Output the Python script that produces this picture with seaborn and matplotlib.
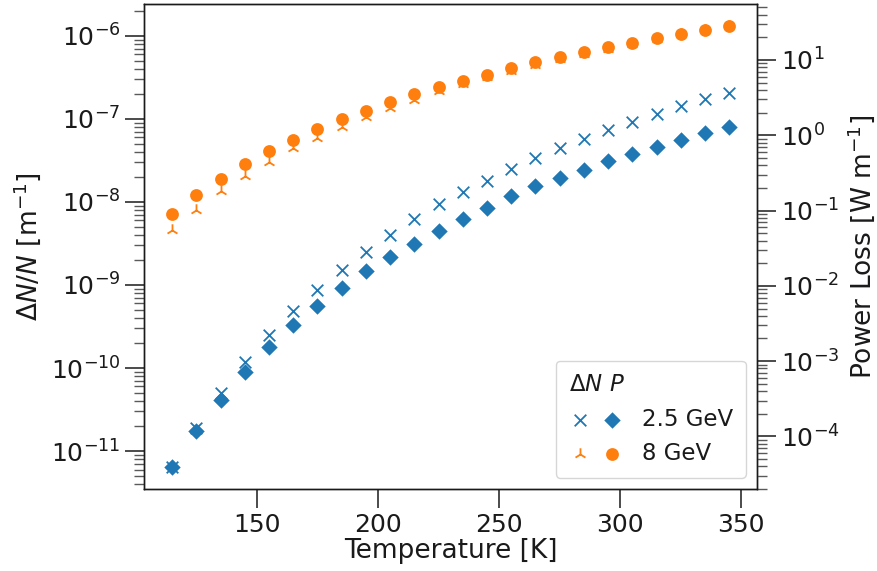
import numpy as np
import matplotlib
matplotlib.use('Agg')
from matplotlib import pyplot as plt
from matplotlib.legend_handler import HandlerTuple
import seaborn as sns

sns.set_theme(style='ticks')
plt.rcParams['font.family'] = ['DejaVu Sans']
plt.rcParams['mathtext.fontset'] = 'dejavusans'
plt.rcParams.update({'text.color': 'k', 'axes.labelcolor': 'k',
                     'xtick.color': 'k', 'ytick.color': 'k', 'axes.edgecolor': 'k'})

# temperature grid [K]
temperature = [115, 125, 135, 145, 155, 165, 175, 185, 195, 205, 215, 225,
               235, 245, 255, 265, 275, 285, 295, 305, 315, 325, 335, 345]

# relative loss dN/N [1/m]
dn_25 = [6.4e-12, 1.89e-11, 5.0e-11, 1.19e-10, 2.5e-10, 4.9e-10, 8.8e-10, 1.53e-9,
         2.5e-9, 4.0e-9, 6.2e-9, 9.4e-9, 1.3e-8, 1.8e-8, 2.5e-8, 3.4e-8,
         4.5e-8, 5.7e-8, 7.4e-8, 9.2e-8, 1.15e-7, 1.43e-7, 1.75e-7, 2.05e-7]
dn_8 = [4.58e-9, 7.94e-9, 1.36e-8, 2.06e-8, 3.05e-8, 4.43e-8, 5.89e-8, 7.94e-8,
        1.05e-7, 1.35e-7, 1.71e-7, 2.14e-7, 2.65e-7, 3.19e-7, 3.80e-7, 4.50e-7,
        5.21e-7, 6.0e-7, 7.0e-7, 7.96e-7, 9.15e-7, 1.04e-6, 1.17e-6, 1.31e-6]

# power loss [W/m]
p_25 = [3.9e-5, 1.17e-4, 3.07e-4, 7.28e-4, 1.53e-3, 3.0e-3, 5.45e-3, 9.5e-3,
        0.0158, 0.0244, 0.0363, 0.053, 0.0767, 0.109, 0.155, 0.21,
        0.271, 0.35, 0.45, 0.57, 0.70, 0.87, 1.07, 1.28]
p_8 = [0.0912, 0.160, 0.260, 0.410, 0.615, 0.871, 1.205, 1.62,
       2.13, 2.74, 3.55, 4.39, 5.32, 6.38, 7.74, 9.29,
       10.96, 12.8, 15.0, 16.9, 19.5, 22.1, 24.9, 28.2]

energies = ['2.5 GeV', '8 GeV']
pal = sns.color_palette('tab10')
c0, c1 = pal[0], pal[1]

fig = plt.figure(figsize=(8.77, 5.71), dpi=100)
ax = fig.add_axes([0.1645, 0.1431, 0.6987, 0.8499])
ax2 = ax.twinx()

sns.scatterplot(x=temperature, y=dn_25, marker='x', color=c0, s=70, linewidth=1.3, ax=ax, legend=False)
sns.scatterplot(x=temperature, y=dn_8, marker='2', color=c1, s=80, linewidth=1.3, ax=ax, legend=False)
sns.scatterplot(x=temperature, y=p_25, marker='D', color=c0, s=70, linewidth=0, ax=ax2, legend=False)
sns.scatterplot(x=temperature, y=p_8, marker='o', color=c1, s=85, linewidth=0, ax=ax2, legend=False)

for a in (ax, ax2):
    a.set_yscale('log')
    a.tick_params(axis='both', which='major', labelsize=18, length=13.5, width=1.1, color='k')
    a.tick_params(axis='y', which='minor', length=7.5, width=1.0, color='0.35')
    for sp in a.spines.values():
        sp.set_color('k')
        sp.set_linewidth(1.0)

ax.set_xticks([150, 200, 250, 300, 350])
ax.set_xlabel('Temperature [K]', fontsize=19, labelpad=1)
ax.set_ylabel(r'$\Delta N/N$ [m$^{-1}$]', fontsize=19, labelpad=6)
ax2.set_ylabel(r'Power Loss [W m$^{-1}$]', fontsize=19)

h_dn25, h_dn8 = ax.collections[0], ax.collections[1]
h_p25, h_p8 = ax2.collections[0], ax2.collections[1]
ax2.legend([(h_dn25, h_p25), (h_dn8, h_p8)], energies,
           handler_map={tuple: HandlerTuple(ndivide=None, pad=0.45)},
           title=r'$\Delta N$ $P$', title_fontsize=16.5, fontsize=16.5,
           handlelength=2.4, borderpad=0.55, labelspacing=0.5,
           loc='lower right', alignment='left')

fig.savefig('out.png', dpi=100)
